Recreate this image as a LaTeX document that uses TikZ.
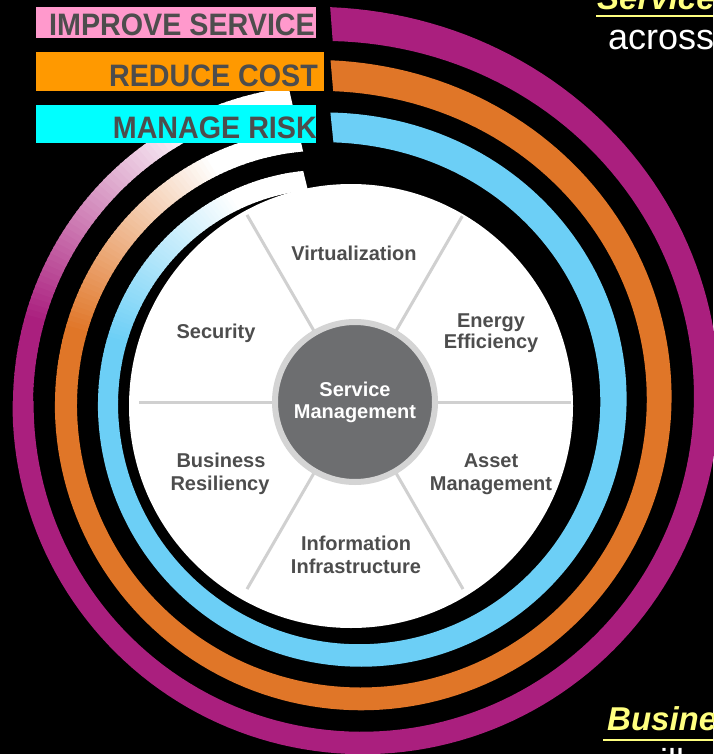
\documentclass[tikz,border=0pt]{standalone}
\usepackage{fontspec}
\setmainfont{Liberation Sans}
\definecolor{ringM}{HTML}{AA1F7E}
\definecolor{ringO}{HTML}{E07628}
\definecolor{ringB}{HTML}{6CCFF6}
\definecolor{labP}{HTML}{FF99CC}
\definecolor{labO}{HTML}{FF9900}
\definecolor{labC}{HTML}{00FFFF}
\definecolor{txtG}{HTML}{4D4D4D}
\definecolor{hubG}{HTML}{6D6E70}
\definecolor{hubR}{HTML}{D4D4D4}
\definecolor{spokeG}{HTML}{D0D0D0}
\definecolor{yel}{HTML}{FFFF80}
\newcommand{\ringfade}[5]{%
  \foreach \ang in {180,...,#5}{%
    \pgfmathsetmacro\rA{#2-#3*(\ang-180)^2}%
    \pgfmathsetmacro\rB{#2-#3*(\ang+1.3-180)^2}%
    \pgfmathsetmacro\pc{max(0,min(100,(238-\ang)/44*100))}%
    \fill[#1!\pc!white] ({\ang}:{\rA-#4/2}) -- ({\ang}:{\rA+#4/2}) -- ({\ang+1.3}:{\rB+#4/2}) -- ({\ang+1.3}:{\rB-#4/2}) -- cycle;
  }}
\begin{document}
\begin{tikzpicture}[x=1pt,y=-1pt,
  lab/.style={font=\fontsize{20}{23}\selectfont\bfseries, text=txtG, inner sep=0pt, anchor=base},
  bar/.style={inner sep=0pt, anchor=base east, text=txtG, font=\fontsize{31}{31}\selectfont\bfseries, xscale=0.925},
  spoke/.style={draw=spokeG, line width=3pt}]
\useasboundingbox (0,0) rectangle (713,754);
\fill[black] (0,0) rectangle (713,754);
% rings
\begin{scope}[shift={(360,404)}]
\fill[ringM] plot[domain=-94.3:180.5, samples=150, variable=\p] (\p:{347+3*(180.5-\p)/275+48*exp(-(\p+94.3)/60)})
  -- plot[domain=0:274.8, samples=150, variable=\q] ({180.5-\q}:{326+38*exp(-(274.8-\q)/60)}) -- cycle;
\ringfade{ringM}{337}{0.0038}{20}{256}
\fill[ringO] plot[domain=-94.9:180.5, samples=150, variable=\p] (\p:{305+(180.5-\p)/275+39*exp(-(\p+94.9)/50)})
  -- plot[domain=0:275.4, samples=150, variable=\q] ({180.5-\q}:{283+31*exp(-(275.4-\q)/45)}) -- cycle;
\ringfade{ringO}{294}{0.00405}{22}{256}
\fill[ringB] plot[domain=-95.8:180.5, samples=150, variable=\p] (\p:{262+31*exp(-(\p+95.8)/50)})
  -- plot[domain=0:276.3, samples=150, variable=\q] ({180.5-\q}:{238+25*exp(-(276.3-\q)/40)+4*max(0,276.3-\q-95)/180}) -- cycle;
\ringfade{ringB}{252}{0.0038}{20}{255}
\end{scope}
% white disc and spokes
\fill[white] (351,406) circle (222);
\begin{scope}
\clip (351,406) circle (220);
\begin{scope}[shift={(355,402)}]
\foreach \a in {0,60,120,180,240,300}{\draw[spoke] (\a:80) -- (\a:216);}
\end{scope}
\end{scope}
\node[circle, fill=hubG, draw=hubR, line width=6pt, minimum size=160pt, inner sep=0pt,
  font=\fontsize{20}{22}\selectfont\bfseries, text=white, align=center] (hub) at (355,402) {Service\\Management};
% segment labels
\node[lab] (virt) at (354,260) {Virtualization};
\node[lab] (sec) at (216,338) {Security};
\node[lab] (en1) at (491,327) {Energy};
\node[lab] (en2) at (491,348) {Efficiency};
\node[lab] (bus1) at (221,467) {Business};
\node[lab] (bus2) at (220,490) {Resiliency};
\node[lab] (as1) at (491,467) {Asset};
\node[lab] (as2) at (491,490) {Management};
\node[lab] (inf1) at (356,550) {Information};
\node[lab] (inf2) at (356,573) {Infrastructure};
% label bars
\fill[labP] (36,7) rectangle (316,38);
\fill[labO] (36,52) rectangle (324,91);
\fill[labC] (36,105) rectangle (316,143);
\node[bar] (imp) at (315,36) {IMPROVE SERVICE};
\node[bar] (red) at (318,87) {REDUCE COST};
\node[bar] (man) at (317,139) {MANAGE RISK};
% side text
\node[anchor=base west, inner sep=0pt, font=\fontsize{33}{33}\selectfont\bfseries\itshape, text=yel] (svc) at (597,10) {Service};
\coordinate (u1a) at (596,16); \coordinate (u1b) at (713,16);
\draw[yel, line width=2.5pt] (u1a) -- (u1b);
\node[anchor=base west, inner sep=0pt, font=\fontsize{36}{36}\selectfont, text=white] (acr) at (608,50) {across};
\node[anchor=base west, inner sep=0pt, font=\fontsize{33}{33}\selectfont\bfseries\itshape, text=yel] (bus) at (607,730) {Business};
\coordinate (u2a) at (603,740); \coordinate (u2b) at (713,740);
\draw[yel, line width=2.5pt] (u2a) -- (u2b);
\node[anchor=base west, inner sep=0pt, font=\fontsize{36}{36}\selectfont, text=white] (wil) at (634,774) {will};
\end{tikzpicture}
\end{document}
